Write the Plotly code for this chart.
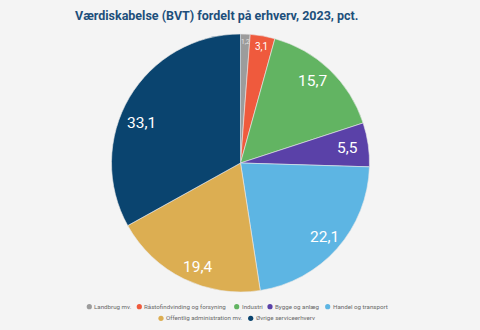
import math
import plotly.graph_objects as go

categories = ["Landbrug mv.", "Råstofindvinding og forsyning", "Industri",
              "Bygge og anlæg", "Handel og transport",
              "Offentlig administration mv.", "Øvrige serviceerhverv"]
values = [1.2, 3.1, 15.7, 5.5, 22.1, 19.4, 33.1]
colors = ["#9c9c9c", "#ef5a3d", "#62b462", "#5a41a8", "#5db5e3", "#dcae52", "#0a446f"]

# value label styling per slice
label_sizes = [6.5, 10, 15.5, 15.5, 15.5, 15.5, 15.5]
label_colors = ["#e4e4e4", "#ffffff", "#ffffff", "#ffffff", "#ffffff", "#ffffff", "#ffffff"]
label_radius = [0.94, 0.92, 0.845, 0.84, 0.865, 0.875, 0.83]
label_nudge_deg = [0, 0.5, -2.4, 0, 0, -3.6, -8.4]

# legend layout (pixel positions of the marker dots, two rows)
legend_rows = [[0, 1, 2, 3, 4], [5, 6]]
legend_row_y = [306.7, 318.3]
legend_dot_x = [[89.3, 139.3, 236.7, 270.0, 327.7], [161.0, 250.7]]

W, H = 480, 330
cx, cy, r = 240.5, 163, 129

fig = go.Figure(go.Pie(
    labels=categories,
    values=values,
    sort=False,
    direction="clockwise",
    rotation=0,
    marker=dict(colors=colors, line=dict(color="#e9e9e9", width=0.6)),
    textinfo="none",
    hoverinfo="label+value",
    showlegend=False,
    domain=dict(x=[(cx - r) / W, (cx + r) / W],
                y=[(H - cy - r) / H, (H - cy + r) / H]),
))

annotations = []
shapes = []

# value labels placed along each slice's middle angle
total = sum(values)
cum = 0.0
for i, v in enumerate(values):
    mid = (cum + v / 2) / total * 360 + label_nudge_deg[i]
    cum += v
    rad = math.radians(mid)
    px = cx + label_radius[i] * r * math.sin(rad)
    py = cy - label_radius[i] * r * math.cos(rad)
    annotations.append(dict(
        x=px / W, y=1 - py / H, xref="paper", yref="paper",
        text=f"{v:.1f}".replace(".", ","), showarrow=False,
        xanchor="center", yanchor="middle", borderpad=0,
        font=dict(family="Roboto", size=label_sizes[i], color=label_colors[i]),
    ))

# legend: coloured dots with labels
dot_r = 2.6
for row, ys, xs in zip(legend_rows, legend_row_y, legend_dot_x):
    for idx, mx in zip(row, xs):
        shapes.append(dict(
            type="circle", xref="paper", yref="paper",
            x0=(mx - dot_r) / W, x1=(mx + dot_r) / W,
            y0=1 - (ys + dot_r) / H, y1=1 - (ys - dot_r) / H,
            fillcolor=colors[idx], line=dict(width=0),
        ))
        annotations.append(dict(
            x=(mx + 4.8) / W, y=1 - ys / H, xref="paper", yref="paper",
            text=categories[idx], showarrow=False,
            xanchor="left", yanchor="middle", borderpad=0, borderwidth=0,
            font=dict(family="Roboto", size=6.2, color="#6a6a6a"),
        ))

fig.update_layout(
    width=W, height=H,
    margin=dict(l=0, r=0, t=0, b=0),
    paper_bgcolor="#f4f4f4",
    plot_bgcolor="#f4f4f4",
    font=dict(family="Roboto", color="#555555"),
    title=dict(text="<b>Værdiskabelse (BVT) fordelt på erhverv, 2023, pct.</b>",
               x=75 / W, xanchor="left", y=1 - 16 / H, yanchor="middle",
               font=dict(family="Roboto", size=12.5, color="#1d4f7b")),
    annotations=annotations,
    shapes=shapes,
)

fig.write_html("out.html")
